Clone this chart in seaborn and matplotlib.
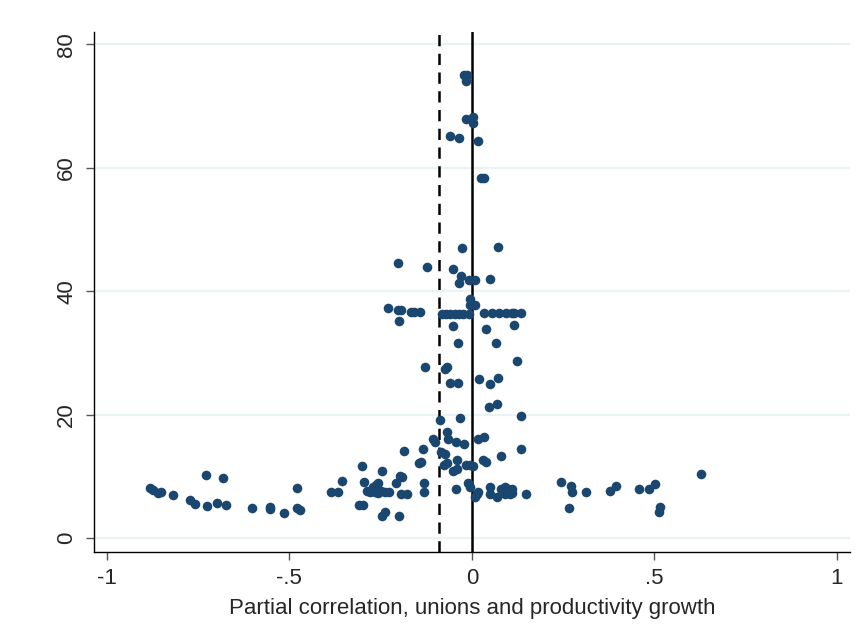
import matplotlib
matplotlib.use("Agg")
import matplotlib.pyplot as plt
from matplotlib import font_manager
import seaborn as sns
import pandas as pd

# Partial correlation between unionisation and productivity growth (x)
# against the study / estimate index on the vertical axis (y)
partial_corr = [
    -0.021, -0.013, -0.015, -0.015, 0.004, 0.004, -0.060, -0.035, 0.016,
    0.024, 0.034, -0.028, 0.072, -0.202, -0.124, -0.051,
    -0.031, -0.035, -0.007, 0.008, 0.049, -0.005, -0.005, 0.008,
    -0.229, -0.202, -0.193, -0.168, -0.159, -0.141, -0.199,
    -0.083, -0.071, -0.060, -0.047, -0.035, -0.024, -0.007,
    0.033, 0.056, 0.074, 0.095, 0.109, 0.115, 0.134,
    -0.051, 0.038, 0.116, -0.037, 0.065,
    -0.128, -0.074, -0.069, 0.123,
    -0.060, -0.039, 0.019, 0.049, 0.072, 0.047, 0.068,
    0.136, -0.086, -0.032, -0.068,
    -0.106, -0.101, -0.065, -0.044, -0.021, 0.017, 0.033,
    -0.186, -0.133, -0.085, -0.074, 0.134, 0.079,
    -0.145, -0.140, -0.302, -0.076, -0.067, -0.042,
    -0.051, -0.042, -0.015, -0.005, 0.004, 0.031, 0.038,
    -0.245, -0.197, -0.191,
    -0.357, -0.295, -0.257, -0.209, -0.132,
    -0.010, -0.005, 0.049, 0.081, 0.090, 0.100, 0.109,
    -0.287, -0.279, -0.266, -0.258, -0.249, -0.237, -0.226, -0.262, -0.270,
    -0.193, -0.179, -0.131, -0.044, 0.013, 0.008, 0.049, 0.068, 0.090, 0.104,
    0.148, 0.109, 0.017,
    -0.309, -0.298, -0.245, -0.238, -0.200, -0.386, -0.368,
    0.244, 0.271, 0.275, 0.267, 0.314, 0.380, 0.396, 0.457, 0.485, 0.501,
    0.517, 0.512, 0.629,
    -0.882, -0.873, -0.859, -0.852, -0.818, -0.773, -0.759, -0.729, -0.683,
    -0.727, -0.698, -0.674, -0.603, -0.553, -0.552, -0.515, -0.478, -0.479,
    -0.471,
]
study_value = [
    75.0, 75.1, 74.0, 67.9, 68.3, 67.2, 65.2, 64.9, 64.3,
    58.3, 58.3, 47.0, 47.2, 44.5, 43.9, 43.6,
    42.4, 41.4, 41.9, 41.8, 42.0, 38.8, 37.8, 37.8,
    37.3, 37.0, 37.0, 36.7, 36.7, 36.6, 35.1,
    36.3, 36.3, 36.3, 36.3, 36.3, 36.3, 36.3,
    36.4, 36.4, 36.4, 36.4, 36.5, 36.5, 36.5,
    34.4, 33.8, 34.6, 31.6, 31.6,
    27.8, 27.4, 27.7, 28.7,
    25.1, 25.2, 25.8, 24.9, 25.9, 21.2, 21.8,
    19.7, 19.1, 19.4, 17.2,
    16.0, 15.6, 16.0, 15.6, 15.2, 16.0, 16.4,
    14.1, 14.4, 13.9, 13.7, 14.4, 13.3,
    12.1, 12.4, 11.7, 11.8, 12.2, 12.6,
    10.9, 11.2, 11.9, 11.9, 11.7, 12.6, 12.4,
    10.8, 10.1, 9.9,
    9.3, 9.1, 8.9, 8.9, 8.9,
    9.0, 8.3, 8.3, 8.0, 8.3, 8.0, 8.0,
    7.7, 7.4, 7.5, 7.3, 7.7, 7.4, 7.5, 8.6, 8.2,
    7.1, 7.1, 7.5, 7.9, 7.1, 6.6, 7.2, 6.7, 7.2, 7.2,
    7.2, 7.3, 7.5,
    5.3, 5.3, 3.6, 4.3, 3.6, 7.4, 7.4,
    9.1, 8.5, 7.5, 4.9, 7.5, 7.7, 8.5, 7.9, 7.9, 8.8,
    5.1, 4.2, 10.4,
    8.1, 7.8, 7.3, 7.5, 6.9, 6.2, 5.6, 10.3, 9.8,
    5.2, 5.7, 5.3, 4.9, 5.1, 4.7, 4.1, 8.1, 4.9,
    4.5,
]

x_ticks = [-1, -0.5, 0, 0.5, 1]
x_tick_labels = ["-1", "-.5", "0", ".5", "1"]
y_ticks = [0, 20, 40, 60, 80]
y_tick_labels = ["0", "20", "40", "60", "80"]
reference_lines = [-0.09, 0.0]   # dashed: mean estimate, solid: zero
x_label = "Partial correlation, unions and productivity growth"

df = pd.DataFrame({"corr": partial_corr, "value": study_value})

sns.set_theme(style="white")
installed = {f.name for f in font_manager.fontManager.ttflist}
family = "Liberation Sans Narrow" if "Liberation Sans Narrow" in installed else "Liberation Sans"
plt.rcParams["font.family"] = [family, "DejaVu Sans"]

navy = "#1a476f"

fig = plt.figure(figsize=(8.61, 6.29), dpi=100)
ax = fig.add_axes([0.109, 0.123, 0.878, 0.826])

for yt in y_ticks:
    ax.axhline(yt, color="#eaf2f3", lw=1.6, zorder=0)

ax.axvline(reference_lines[0], color="black", lw=1.8, ls=(0, (4.5, 3)), zorder=1)
ax.axvline(reference_lines[1], color="black", lw=1.8, zorder=1)

sns.scatterplot(data=df, x="corr", y="value", ax=ax, color=navy, s=48,
                linewidth=0, zorder=3)

ax.set_xlim(-1.036, 1.036)
ax.set_ylim(-2.2, 82.0)
ax.set_xticks(x_ticks)
ax.set_xticklabels(x_tick_labels)
ax.set_yticks(y_ticks)
ax.set_yticklabels(y_tick_labels, rotation=90, va="center")
ax.set_xlabel(x_label, fontsize=16, labelpad=6)
ax.set_ylabel("")

for side in ("top", "right"):
    ax.spines[side].set_visible(False)
for side in ("left", "bottom"):
    ax.spines[side].set_color("black")
    ax.spines[side].set_linewidth(1.0)

ax.tick_params(axis="both", which="major", direction="out", length=6, width=1,
               color="#555555", labelsize=16, left=True, bottom=True, pad=6)

fig.savefig("out.png", dpi=100, facecolor="white")
